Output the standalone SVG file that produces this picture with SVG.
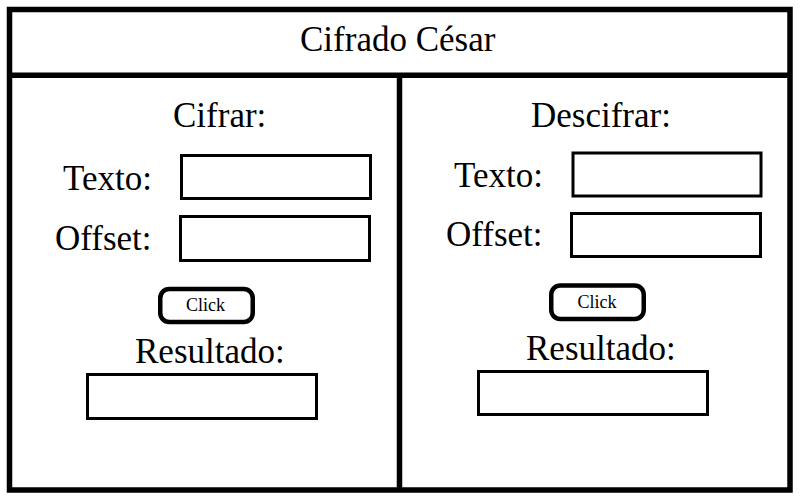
<svg xmlns="http://www.w3.org/2000/svg" width="800" height="500" viewBox="0 0 800 500">
<style>
  .frame { fill: none; stroke: #000; stroke-width: 5.5; }
  .field { fill: #fff; stroke: #000; stroke-width: 3; }
  .btn { fill: #fff; stroke: #000; stroke-width: 4.5; }
  .lbl { font-family: "Liberation Serif", "Times New Roman", serif; font-size: 35px; fill: #000; }
  .btxt { font-family: "Liberation Serif", "Times New Roman", serif; font-size: 18px; fill: #000; }
</style>
<rect x="0" y="0" width="800" height="500" fill="#fff"/>
<g id="frame">
  <rect class="frame" x="9.5" y="9.5" width="780.5" height="480.5"/>
  <line class="frame" x1="9.5" y1="75.3" x2="790" y2="75.3"/>
  <line class="frame" x1="399.5" y1="75.3" x2="399.5" y2="490"/>
</g>
<g id="title">
  <text class="lbl" x="300" y="51">Cifrado César</text>
</g>
<g id="cifrar">
  <text class="lbl" x="173" y="127">Cifrar:</text>
  <text class="lbl" x="63" y="190">Texto:</text>
  <rect class="field" x="181.5" y="155.5" width="189" height="43"/>
  <text class="lbl" x="55" y="250">Offset:</text>
  <rect class="field" x="180.5" y="216.5" width="189" height="44"/>
  <rect class="btn" x="160.25" y="289" width="92.5" height="33" rx="9"/>
  <text class="btxt" x="186" y="311">Click</text>
  <text class="lbl" x="135" y="363">Resultado:</text>
  <rect class="field" x="87.5" y="374.5" width="229" height="44"/>
</g>
<g id="descifrar">
  <text class="lbl" x="531" y="127">Descifrar:</text>
  <text class="lbl" x="454" y="187">Texto:</text>
  <rect class="field" x="573" y="153" width="188" height="43"/>
  <text class="lbl" x="446" y="246">Offset:</text>
  <rect class="field" x="571.5" y="213.5" width="189" height="43"/>
  <rect class="btn" x="551.25" y="285.5" width="92.5" height="33.5" rx="9"/>
  <text class="btxt" x="577.5" y="308">Click</text>
  <text class="lbl" x="526" y="360">Resultado:</text>
  <rect class="field" x="478.5" y="371.5" width="229" height="43"/>
</g>
<g id="connectors"></g>
</svg>
